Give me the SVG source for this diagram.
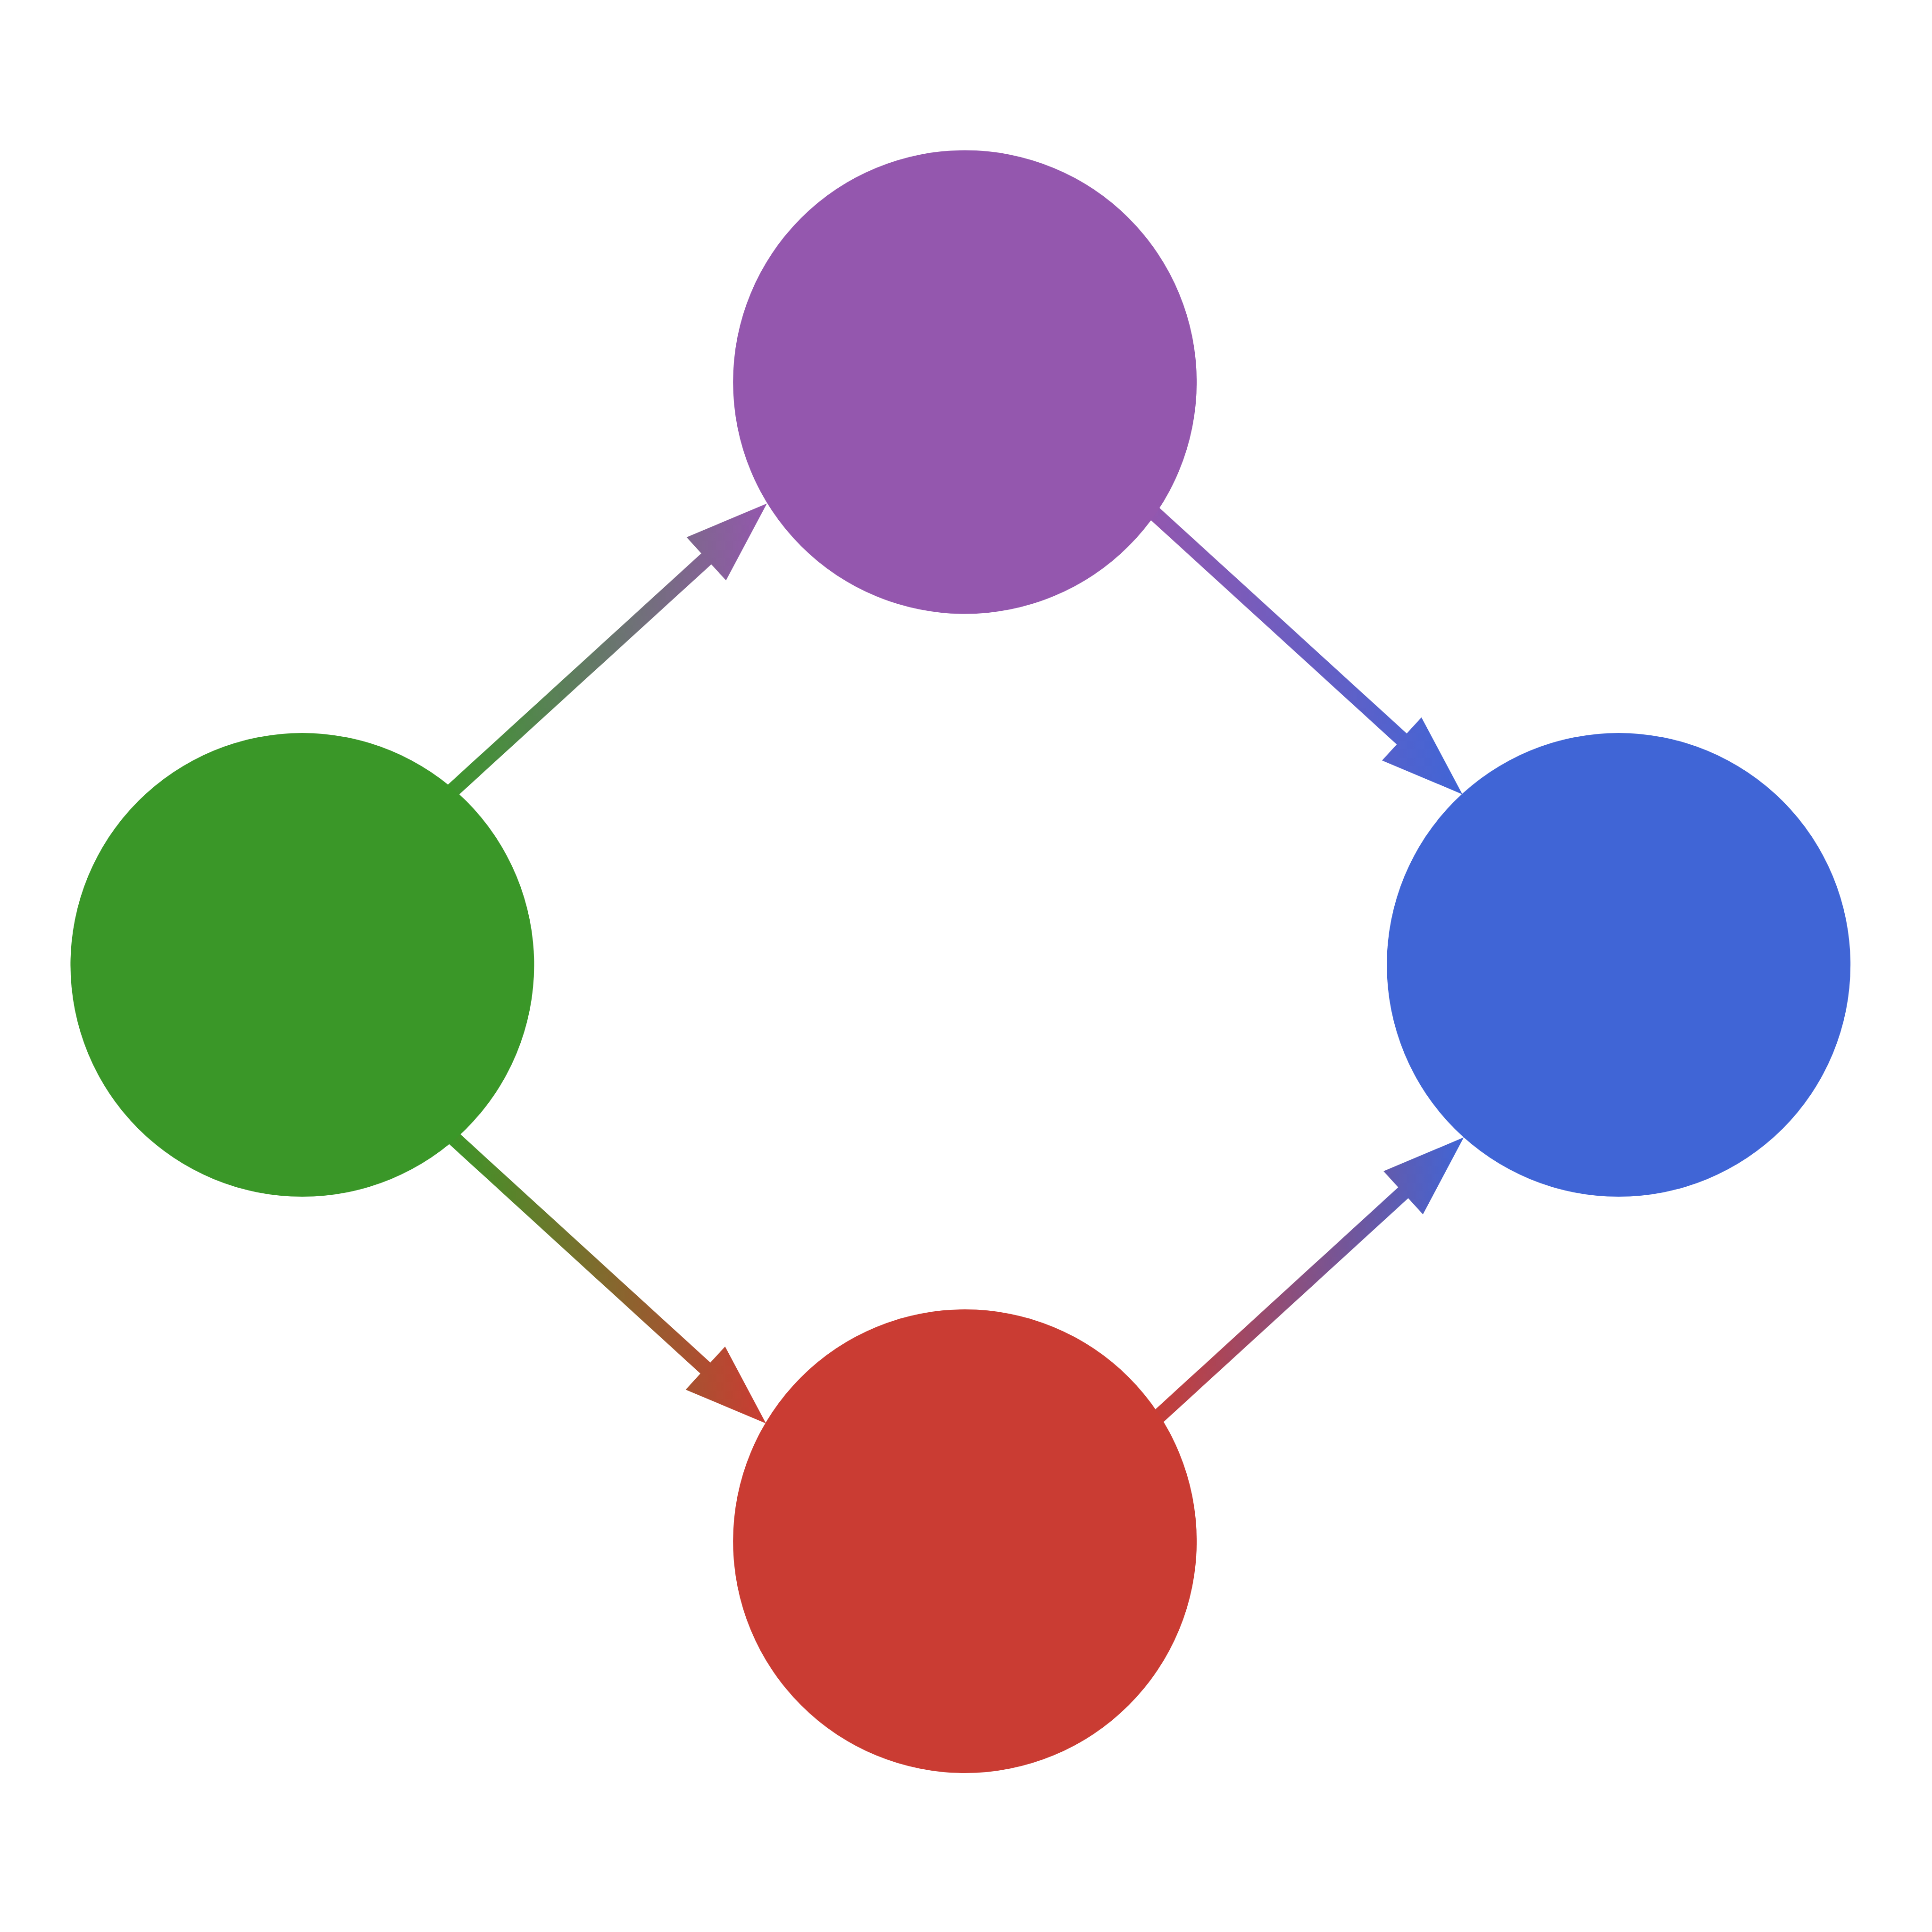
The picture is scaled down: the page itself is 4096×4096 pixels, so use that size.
<svg xmlns="http://www.w3.org/2000/svg" width="4096" height="4096" viewBox="0 0 4096 4096">
  <defs>
    <style>
      .node { stroke: none; }
      .edge { stroke: none; }
    </style>
    <linearGradient id="g-green-purple" x1="0" y1="0" x2="1" y2="0">
      <stop offset="0" stop-color="#3A9728"/>
      <stop offset="1" stop-color="#9457AE"/>
    </linearGradient>
    <linearGradient id="g-purple-blue" x1="0" y1="0" x2="1" y2="0">
      <stop offset="0" stop-color="#9457AE"/>
      <stop offset="1" stop-color="#4065D6"/>
    </linearGradient>
    <linearGradient id="g-green-red" x1="0" y1="0" x2="1" y2="0">
      <stop offset="0" stop-color="#3A9728"/>
      <stop offset="1" stop-color="#CA3C33"/>
    </linearGradient>
    <linearGradient id="g-red-blue" x1="0" y1="0" x2="1" y2="0">
      <stop offset="0" stop-color="#CA3C33"/>
      <stop offset="1" stop-color="#4065D6"/>
    </linearGradient>
  </defs>
  <rect width="4096" height="4096" fill="#FFFFFF"/>
  <g transform="scale(0.983)">
    <g id="connectors">
      <polygon id="edge-green-purple" class="edge" fill="url(#g-green-purple)" points="974.0,1728.3 1534.1,1217.1 1565.8,1251.8 1654,1086 1480.8,1158.8 1512.5,1193.5 952.4,1704.7"/>
      <polygon id="edge-purple-blue" class="edge" fill="url(#g-purple-blue)" points="2467.9,1108.8 3012.4,1605.5 2980.7,1640.2 3154,1713 3065.7,1547.2 3034.0,1581.9 2489.5,1085.2"/>
      <polygon id="edge-green-red" class="edge" fill="url(#g-green-red)" points="956.4,2456.3 1510.5,2962.4 1478.8,2997.1 1652,3070 1563.8,2904.1 1532.1,2938.8 978.0,2432.7"/>
      <polygon id="edge-red-blue" class="edge" fill="url(#g-red-blue)" points="2497.5,3077.8 3037.2,2584.3 3068.9,2619.0 3157,2453 2983.9,2526.0 3015.6,2560.7 2475.9,3054.2"/>
    </g>
    <g id="node-green"><circle class="node" cx="652" cy="2081" r="500" fill="#3A9728"/></g>
    <g id="node-purple"><circle class="node" cx="2081" cy="824" r="500" fill="#9457AE"/></g>
    <g id="node-blue"><circle class="node" cx="3491" cy="2081" r="500" fill="#4065D6"/></g>
    <g id="node-red"><circle class="node" cx="2081" cy="3324" r="500" fill="#CA3C33"/></g>
  </g>
</svg>
